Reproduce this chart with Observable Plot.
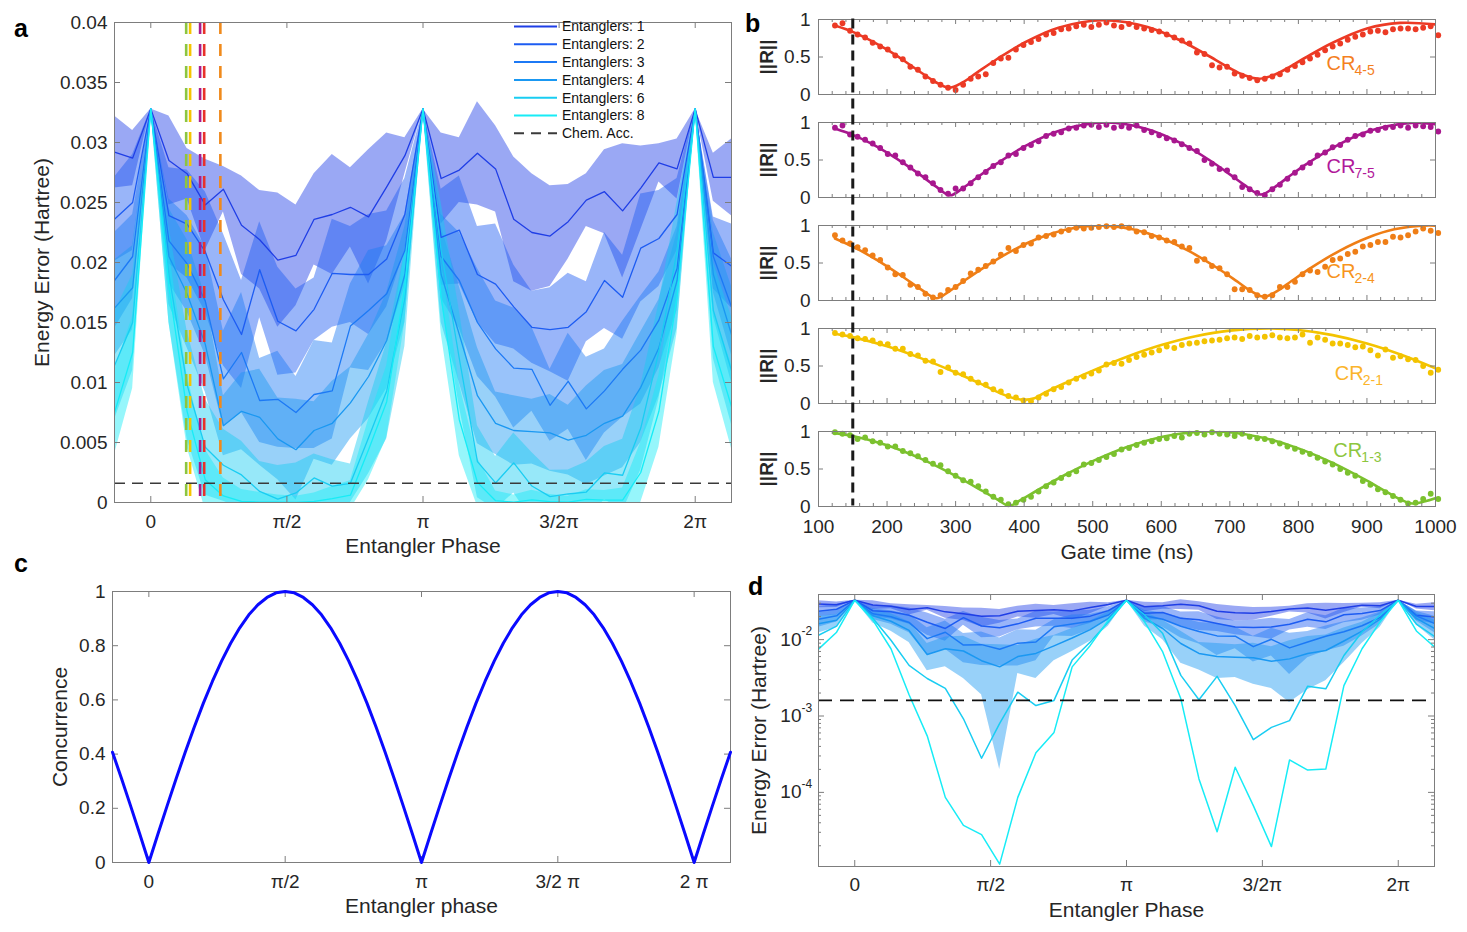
<!DOCTYPE html>
<html>
<head>
<meta charset="utf-8">
<script src="https://cdn.jsdelivr.net/npm/d3@7"></script>
<script src="https://cdn.jsdelivr.net/npm/@observablehq/plot@0.6"></script>
<style>
  html, body { margin: 0; padding: 0; background: #fff; }
  #figure { position: relative; width: 1467px; height: 932px; overflow: hidden; background: #fff; }
  .panel { position: absolute; }
</style>
</head>
<body>
<div id="figure"></div>
<script>
// ================= data =================

// Entangler phase grid (degrees) for the energy-error scans (panels a, d)
const phaseDeg = [-24,-12,0,12,24,36,48,60,72,84,96,108,120,132,144,156,168,180,192,204,216,228,240,252,264,276,288,300,312,324,336,348,360,372,384];
const entanglerCounts = [1, 2, 3, 4, 6, 8];

// mean energy error (Hartree) and spread, per number of entanglers
const err1 = [0.0292,0.0287,0.0328,0.0285,0.0274,0.0248,0.0261,0.0231,0.0219,0.0202,0.0206,0.0236,0.0240,0.0246,0.0238,0.0263,0.0289,0.0328,0.0270,0.0277,0.0291,0.0278,0.0236,0.0225,0.0222,0.0234,0.0252,0.0259,0.0243,0.0262,0.0283,0.0278,0.0328,0.0271,0.0271];
const sd1  = [0.0030,0.0023,0,0.0037,0.0021,0.0038,0.0019,0.0041,0.0041,0.0056,0.0042,0.0038,0.0050,0.0033,0.0056,0.0045,0.0015,0,0.0038,0.0027,0.0043,0.0036,0.0052,0.0049,0.0042,0.0031,0.0022,0.0035,0.0056,0.0035,0.0016,0.0025,0,0.0020,0.0032];
const err2 = [0.0236,0.0250,0.0328,0.0239,0.0232,0.0209,0.0169,0.0140,0.0194,0.0151,0.0143,0.0161,0.0191,0.0190,0.0190,0.0203,0.0240,0.0328,0.0221,0.0227,0.0190,0.0182,0.0163,0.0146,0.0144,0.0146,0.0159,0.0185,0.0171,0.0212,0.0220,0.0240,0.0328,0.0208,0.0197];
const sd2  = [0.0035,0.0040,0,0.0040,0.0045,0.0050,0.0055,0.0045,0.0040,0.0045,0.0035,0.0026,0.0045,0.0040,0.0050,0.0040,0.0030,0,0.0040,0.0045,0.0040,0.0050,0.0035,0.0030,0.0035,0.0045,0.0025,0.0040,0.0035,0.0045,0.0040,0.0030,0,0.0030,0.0035];
const err3 = [0.0185,0.0205,0.0328,0.0218,0.0199,0.0168,0.0103,0.0125,0.0085,0.0086,0.0075,0.0090,0.0093,0.0147,0.0160,0.0174,0.0210,0.0328,0.0205,0.0185,0.0150,0.0128,0.0112,0.0111,0.0081,0.0101,0.0078,0.0093,0.0111,0.0127,0.0152,0.0195,0.0328,0.0205,0.0163];
const sd3  = [0.0040,0.0035,0,0.0035,0.0040,0.0045,0.0040,0.0050,0.0035,0.0040,0.0030,0.0045,0.0040,0.0035,0.0050,0.0040,0.0030,0,0.0035,0.0040,0.0045,0.0040,0.0050,0.0035,0.0030,0.0040,0.0043,0.0035,0.0040,0.0045,0.0040,0.0035,0,0.0030,0.0040];
const err4 = [0.0162,0.0179,0.0328,0.0205,0.0174,0.0132,0.0064,0.0076,0.0071,0.0053,0.0044,0.0060,0.0066,0.0083,0.0105,0.0135,0.0190,0.0328,0.0190,0.0140,0.0089,0.0066,0.0060,0.0059,0.0058,0.0052,0.0056,0.0066,0.0072,0.0096,0.0129,0.0185,0.0328,0.0190,0.0140];
const sd4  = [0.0040,0.0035,0,0.0040,0.0045,0.0040,0.0025,0.0032,0.0040,0.0034,0.0042,0.0024,0.0035,0.0030,0.0035,0.0040,0.0040,0,0.0040,0.0040,0.0040,0.0026,0.0029,0.0027,0.0032,0.0029,0.0041,0.0044,0.0043,0.0046,0.0040,0.0040,0,0.0035,0.0040];
const err6 = [0.0114,0.0150,0.0328,0.0190,0.0098,0.0046,0.0031,0.0023,0.00092,0.00028,0.00080,0.00205,0.00137,0.00160,0.0054,0.0093,0.0170,0.0328,0.0210,0.0120,0.0034,0.00163,0.0033,0.00137,0.00049,0.00071,0.00087,0.00246,0.00227,0.0062,0.0126,0.0210,0.0328,0.0160,0.0110];
const sd6  = [0.0045,0.0040,0,0.0040,0.0045,0.0040,0.0030,0.0028,0.0025,0.0028,0.0025,0.0020,0.0022,0.0016,0.0030,0.0040,0.0040,0,0.0040,0.0040,0.0030,0.0022,0.0025,0.0028,0.0022,0.0020,0.0025,0.0022,0.0030,0.0035,0.0040,0.0040,0,0.0040,0.0045];
const err8 = [0.0075,0.0125,0.0328,0.0180,0.0076,0.0019,0.00055,0.000086,0.000037,0.000028,0.0000115,0.000086,0.00033,0.00061,0.0044,0.0084,0.0180,0.0328,0.0171,0.0069,0.00168,0.00015,0.0000305,0.000213,0.000067,0.0000195,0.000266,0.000196,0.000202,0.0025,0.0076,0.0171,0.0328,0.0130,0.0080];
const sd8  = [0.0035,0.0030,0,0.0030,0.0030,0.0025,0.0015,0.0010,0.0008,0.0006,0.0005,0.0007,0.0010,0.0012,0.0025,0.0030,0.0030,0,0.0030,0.0030,0.0020,0.0008,0.0006,0.0008,0.0006,0.0005,0.0008,0.0008,0.0010,0.0025,0.0030,0.0030,0,0.0030,0.0035];

// chemical accuracy threshold (Hartree)
const chemAcc = 0.0016;

// cross-resonance gates and the entangler phase each reaches at the chosen gate time
const gateNames = ["CR4-5", "CR7-5", "CR2-4", "CR2-1", "CR1-3"];
const gatePhaseDeg = [35.3, 32.6, 46.0, 26.0, 23.4];
const chosenGateTime = 150; // ns

// gate-time sweep (ns) and measured ||R||
const gateTimes = [124,135,146,157,168,179,190,201,212,223,234,245,256,267,278,289,300,311,322,333,344,355,366,377,388,399,410,421,432,443,454,465,476,487,498,509,520,531,542,553,564,575,586,597,608,619,630,641,652,663,674,685,696,707,718,729,740,751,762,773,784,795,806,817,828,839,850,861,872,883,894,905,916,927,938,949,960,971,982,993,1004];
const r45 = [0.92,0.95,0.85,0.80,0.76,0.69,0.64,0.60,0.52,0.47,0.37,0.33,0.24,0.18,0.13,0.09,0.06,0.13,0.21,0.24,0.27,0.42,0.48,0.49,0.60,0.66,0.70,0.74,0.80,0.82,0.87,0.88,0.91,0.93,0.90,0.93,0.96,0.92,0.90,0.94,0.90,0.88,0.86,0.84,0.80,0.76,0.72,0.68,0.56,0.54,0.39,0.36,0.37,0.28,0.25,0.22,0.19,0.21,0.24,0.27,0.33,0.38,0.43,0.48,0.53,0.59,0.64,0.68,0.73,0.77,0.80,0.84,0.85,0.83,0.87,0.88,0.88,0.87,0.89,0.91,0.79];
const r75 = [0.93,0.96,0.84,0.81,0.77,0.72,0.66,0.58,0.56,0.47,0.40,0.32,0.27,0.19,0.10,0.05,0.12,0.12,0.19,0.27,0.34,0.42,0.47,0.56,0.58,0.66,0.70,0.75,0.82,0.85,0.87,0.92,0.93,0.96,0.97,0.94,0.97,0.93,0.95,0.93,0.96,0.90,0.87,0.83,0.79,0.76,0.71,0.66,0.62,0.50,0.45,0.38,0.36,0.27,0.14,0.11,0.06,0.03,0.11,0.17,0.25,0.33,0.40,0.46,0.56,0.60,0.67,0.70,0.77,0.82,0.84,0.89,0.90,0.93,0.94,0.96,0.93,0.96,0.95,0.94,0.88];
const r24 = [0.87,0.80,0.76,0.71,0.67,0.60,0.54,0.44,0.35,0.34,0.21,0.18,0.09,0.04,0.07,0.14,0.18,0.26,0.36,0.41,0.46,0.52,0.61,0.70,0.66,0.74,0.76,0.84,0.86,0.88,0.92,0.94,0.97,0.96,0.97,0.98,0.99,0.98,0.99,0.97,0.92,0.91,0.86,0.84,0.80,0.78,0.72,0.70,0.53,0.55,0.46,0.43,0.35,0.15,0.15,0.14,0.07,0.05,0.07,0.18,0.18,0.25,0.35,0.40,0.38,0.45,0.54,0.56,0.62,0.65,0.72,0.74,0.78,0.78,0.85,0.84,0.87,0.92,0.96,0.93,0.90];
const r21 = [0.94,0.92,0.90,0.87,0.86,0.84,0.80,0.79,0.73,0.73,0.66,0.64,0.57,0.56,0.42,0.48,0.41,0.39,0.33,0.28,0.25,0.19,0.16,0.10,0.08,0.04,0.03,0.08,0.13,0.19,0.22,0.28,0.33,0.36,0.40,0.44,0.52,0.54,0.53,0.58,0.62,0.65,0.68,0.71,0.76,0.74,0.78,0.80,0.81,0.83,0.84,0.85,0.87,0.88,0.86,0.90,0.88,0.89,0.91,0.88,0.87,0.88,0.92,0.81,0.88,0.85,0.80,0.80,0.78,0.75,0.76,0.71,0.64,0.72,0.61,0.63,0.59,0.58,0.50,0.41,0.45];
const r13 = [0.99,0.97,0.95,0.90,0.92,0.87,0.85,0.80,0.80,0.74,0.71,0.67,0.62,0.57,0.55,0.47,0.41,0.35,0.33,0.27,0.20,0.13,0.09,0.03,0.05,0.09,0.13,0.20,0.27,0.32,0.38,0.43,0.47,0.56,0.58,0.62,0.66,0.70,0.76,0.78,0.82,0.85,0.87,0.90,0.91,0.94,0.92,0.97,0.98,0.96,0.99,0.97,0.96,0.94,0.97,0.93,0.91,0.90,0.87,0.84,0.80,0.77,0.73,0.70,0.65,0.60,0.56,0.50,0.45,0.41,0.34,0.29,0.23,0.19,0.14,0.09,0.04,0.05,0.10,0.17,0.10];

// fitted ||R|| curves (knot times in ns, values)
const fit45T = [124,150,175,200,225,250,270,290,310,330,360,400,450,515,580,630,670,700,720,741,760,780,810,850,900,948,1000];
const fit45R = [0.92,0.835,0.725,0.597,0.45,0.29,0.17,0.09,0.16,0.285,0.47,0.69,0.89,0.99,0.90,0.71,0.51,0.35,0.26,0.21,0.245,0.33,0.49,0.69,0.88,0.955,0.935];
const fit75T = [124,150,175,200,225,250,270,292,310,330,360,400,450,520,580,630,670,700,720,745,765,785,810,850,900,965,1000];
const fit75R = [0.92,0.835,0.728,0.598,0.451,0.291,0.155,0.03,0.122,0.257,0.451,0.678,0.888,1.0,0.911,0.718,0.50,0.309,0.175,0.04,0.136,0.271,0.434,0.663,0.878,0.995,0.975];
const fit24T = [124,150,175,200,225,250,272,290,310,340,380,420,460,500,520,560,600,640,680,710,730,750,770,790,820,860,900,940,990,1000];
const fit24R = [0.826,0.718,0.595,0.456,0.304,0.144,0.03,0.118,0.247,0.432,0.652,0.826,0.944,0.997,0.998,0.948,0.834,0.661,0.443,0.259,0.131,0.05,0.132,0.26,0.445,0.663,0.834,0.949,1.0,0.997];
const fit21T = [124,150,200,250,300,340,370,385,400,415,430,460,500,550,600,650,700,757,800,850,900,950,1000];
const fit21R = [0.93,0.885,0.762,0.602,0.414,0.248,0.118,0.07,0.05,0.07,0.145,0.274,0.438,0.624,0.779,0.897,0.972,1.0,0.98,0.912,0.801,0.651,0.47];
const fit13T = [124,150,200,250,300,340,360,378,395,420,460,500,550,600,640,672,700,750,800,850,900,930,950,966,985,1000];
const fit13R = [0.978,0.94,0.816,0.635,0.408,0.204,0.099,0.01,0.087,0.22,0.423,0.605,0.794,0.926,0.985,1.0,0.989,0.914,0.775,0.581,0.344,0.189,0.09,0.04,0.07,0.11];

// concurrence of the entangler versus its phase (degrees)
const phaseDegC = [-24,-18,-12,-6,0,6,12,18,24,30,36,42,48,54,60,66,72,78,84,90,96,102,108,114,120,126,132,138,144,150,156,162,168,174,180,186,192,198,204,210,216,222,228,234,240,246,252,258,264,270,276,282,288,294,300,306,312,318,324,330,336,342,348,354,360,366,372,378,384];
const concurrence = [0.407,0.309,0.208,0.105,0,0.105,0.208,0.309,0.407,0.5,0.588,0.669,0.743,0.809,0.866,0.914,0.951,0.978,0.995,1,0.995,0.978,0.951,0.914,0.866,0.809,0.743,0.669,0.588,0.5,0.407,0.309,0.208,0.105,0,0.105,0.208,0.309,0.407,0.5,0.588,0.669,0.743,0.809,0.866,0.914,0.951,0.978,0.995,1,0.995,0.978,0.951,0.914,0.866,0.809,0.743,0.669,0.588,0.5,0.407,0.309,0.208,0.105,0,0.105,0.208,0.309,0.407];

// tick positions and labels
const phaseTicks = [0, 90, 180, 270, 360];
const phaseLabelsA = ["0", "π/2", "π", "3/2π", "2π"];
const phaseLabelsC = ["0", "π/2", "π", "3/2 π", "2 π"];
const errTicks = [0, 0.005, 0.01, 0.015, 0.02, 0.025, 0.03, 0.035, 0.04];
const concTicks = [0, 0.2, 0.4, 0.6, 0.8, 1];
const rTicks = [0, 0.5, 1];
const timeTicks = [100, 200, 300, 400, 500, 600, 700, 800, 900, 1000];
const logDecades = [1e-2, 1e-3, 1e-4];
const logExponents = ["-2", "-3", "-4"];

// ================= styling =================
const FONT = "'Liberation Sans', Arial, Helvetica, sans-serif";
const INK = "#262626";
const AXIS = "#7d7d7d";
const TICK_FS = 19, TITLE_FS = 21;
const entColors = ["#1f3ee6", "#1d5cf2", "#1c79f5", "#1a98f2", "#19cdf2", "#17ecf6"];
const gateDotColors = ["#ec3a25", "#a8178e", "#ef7e16", "#f3c300", "#7bc12e"];
const gateLabelColors = ["#f4801f", "#b1199a", "#f7941d", "#fbb42a", "#8dc63f"];
const gateLineColors = ["#e8312a", "#a81b8d", "#f08a1c", "#f5c400", "#8dc63f"];

const baseStyle = {fontFamily: FONT, fontSize: TICK_FS + "px", color: INK, background: "none", overflow: "visible"};

// inward tick marks on all four sides of a frame
function frameTicks({xTicks = [], yTicks = [], fw, fh, len = 6}) {
  return [
    Plot.tickX(xTicks, {x: d => d, insetTop: fh - len, stroke: AXIS}),
    Plot.tickX(xTicks, {x: d => d, insetBottom: fh - len, stroke: AXIS}),
    Plot.tickY(yTicks, {y: d => d, insetRight: fw - len, stroke: AXIS}),
    Plot.tickY(yTicks, {y: d => d, insetLeft: fw - len, stroke: AXIS})
  ];
}

// axis titles: one below the frame, one rotated to its left
function xTitle(text, dy, extra = {}) {
  return Plot.text([text], {text: d => d, frameAnchor: "bottom", lineAnchor: "middle", textAnchor: "middle", dy, fontSize: TITLE_FS, fill: INK, ...extra});
}
function yTitle(text, dx, extra = {}) {
  return Plot.text([text], {text: d => d, frameAnchor: "left", lineAnchor: "middle", textAnchor: "middle", rotate: -90, dx, fontSize: TITLE_FS, fill: INK, ...extra});
}

const fig = document.getElementById("figure");
function place(node, left, top, w, h) {
  const d = document.createElement("div");
  d.className = "panel";
  d.style.left = left + "px"; d.style.top = top + "px";
  d.style.width = w + "px"; d.style.height = h + "px";
  d.appendChild(node);
  fig.appendChild(d);
}

// tidy table of the energy-error scans
const errSeries = [err1, err2, err3, err4, err6, err8];
const sdSeries = [sd1, sd2, sd3, sd4, sd6, sd8];
const scanRows = entanglerCounts.flatMap((n, s) => phaseDeg.map((p, i) => ({
  n, phase: p, err: errSeries[s][i],
  lo: errSeries[s][i] - sdSeries[s][i], hi: errSeries[s][i] + sdSeries[s][i],
  color: entColors[s]
})));
const gateRows = gateNames.map((g, i) => ({gate: g, phase: gatePhaseDeg[i], color: gateLineColors[i]}));

// ================= panel a: linear energy error =================
{
  const W = 740, H = 560, ml = 114, mr = 9, mt = 22, mb = 58;
  const fw = W - ml - mr, fh = H - mt - mb;
  const plot = Plot.plot({
    width: W, height: H, marginLeft: ml, marginRight: mr, marginTop: mt, marginBottom: mb,
    x: {domain: [-24, 384]}, y: {domain: [0, 0.04]},
    style: baseStyle,
    marks: [
      Plot.areaY(scanRows, {x: "phase", y1: "lo", y2: "hi", z: "n", fill: "color", fillOpacity: 0.45, clip: true}),
      Plot.lineY(scanRows, {x: "phase", y: "err", z: "n", stroke: "color", strokeWidth: 1.3, clip: true}),
      Plot.ruleY([chemAcc], {stroke: "#3a3a3a", strokeWidth: 1.6, strokeDasharray: "11,7"}),
      Plot.ruleX(gateRows, {x: "phase", stroke: "color", strokeWidth: 2.6, strokeDasharray: "12,10"}),
      ...frameTicks({xTicks: phaseTicks, yTicks: errTicks, fw, fh}),
      Plot.frame({stroke: AXIS}),
      Plot.axisX({ticks: phaseTicks, tickFormat: (d, i) => phaseLabelsA[i], tickSize: 0, tickPadding: 12, label: null, fontSize: TICK_FS, color: INK}),
      Plot.axisY({ticks: errTicks, tickFormat: d => String(d), tickSize: 0, tickPadding: 7, label: null, fontSize: TICK_FS, color: INK}),
      xTitle("Entangler Phase", 44),
      yTitle("Energy Error (Hartree)", -72)
    ]
  });
  place(plot, 0, 0, W, H);
}

// ================= panel b: ||R|| versus gate time =================
{
  const W = 727, H = 560, ml = 78, mr = 32, mt = 18.5, mb = 54.5;
  const pad = 0.272;
  const fw = W - ml - mr;
  const step = (H - mt - mb) / (gateNames.length - pad);
  const fh = step * (1 - pad);
  const dotSeries = [r45, r75, r24, r21, r13];
  const fitTs = [fit45T, fit75T, fit24T, fit21T, fit13T];
  const fitRs = [fit45R, fit75R, fit24R, fit21R, fit13R];
  const dotRows = gateNames.flatMap((g, k) => gateTimes.map((t, i) => ({gate: g, t, r: dotSeries[k][i], color: gateDotColors[k]})));
  const fitRows = gateNames.flatMap((g, k) => fitTs[k].map((t, i) => ({gate: g, t, r: fitRs[k][i], color: gateDotColors[k]})));
  // where each gate's name is written inside its panel (ns, ||R||)
  const labelAt = [[841, 0.41], [841, 0.41], [841, 0.39], [853, 0.40], [851, 0.74]];
  const labelRows = gateNames.map((g, k) => ({gate: g, t: labelAt[k][0], r: labelAt[k][1], sub: g.slice(2), color: gateLabelColors[k]}));
  const minorTime = d3.range(100, 1001, 20).filter(t => t % 100 !== 0);
  const plot = Plot.plot({
    width: W, height: H, marginLeft: ml, marginRight: mr, marginTop: mt, marginBottom: mb,
    x: {domain: [100, 1000]}, y: {domain: [0, 1]},
    fy: {domain: gateNames, paddingInner: pad, paddingOuter: 0, axis: null},
    style: baseStyle,
    marks: [
      Plot.lineY(fitRows, {x: "t", y: "r", fy: "gate", z: "gate", stroke: "color", strokeWidth: 2.6, curve: "catmull-rom", clip: true}),
      Plot.dot(dotRows, {x: "t", y: "r", fy: "gate", fill: "color", r: 2.9}),
      Plot.text(labelRows, {x: "t", y: "r", fy: "gate", text: () => "CR", fill: "color", textAnchor: "start", fontSize: 20}),
      Plot.text(labelRows, {x: "t", y: "r", fy: "gate", text: "sub", fill: "color", textAnchor: "start", fontSize: 14, dx: 28, dy: 7}),
      ...frameTicks({xTicks: timeTicks, yTicks: rTicks, fw, fh, len: 5}),
      ...frameTicks({xTicks: minorTime, fw, fh, len: 3}),
      Plot.frame({stroke: AXIS}),
      Plot.axisX({ticks: timeTicks, tickFormat: d => String(d), tickSize: 0, tickPadding: 13, label: null, fontSize: TICK_FS, color: INK}),
      Plot.axisY({ticks: rTicks, tickFormat: d => String(d), tickSize: 0, tickPadding: 8, label: null, fontSize: TICK_FS, color: INK}),
      Plot.text(gateNames, {fy: d => d, text: () => "||R||", frameAnchor: "left", textAnchor: "middle", lineAnchor: "middle", rotate: -90, dx: -52, fontSize: 19, fontWeight: "bold", fill: INK}),
      xTitle("Gate time (ns)", 46, {fy: () => "CR1-3"})
    ]
  });
  place(plot, 740, 0, W, H);

  // the chosen gate time, marked across all five gates
  const marker = Plot.plot({
    width: W, height: H, marginLeft: ml, marginRight: mr, marginTop: mt, marginBottom: mb,
    x: {domain: [100, 1000], axis: null}, y: {domain: [0, 1], axis: null},
    style: baseStyle,
    marks: [Plot.ruleX([chosenGateTime], {stroke: "#1a1a1a", strokeWidth: 3, strokeDasharray: "10,6"})]
  });
  place(marker, 740, 0, W, H);
}

// ================= panel c: concurrence =================
{
  const W = 740, H = 372, ml = 112, mr = 10, mt = 31, mb = 70;
  const fw = W - ml - mr, fh = H - mt - mb;
  const rows = phaseDegC.map((p, i) => ({phase: p, c: concurrence[i]}));
  const plot = Plot.plot({
    width: W, height: H, marginLeft: ml, marginRight: mr, marginTop: mt, marginBottom: mb,
    x: {domain: [-24, 384]}, y: {domain: [0, 1]},
    style: baseStyle,
    marks: [
      ...frameTicks({xTicks: phaseTicks, yTicks: concTicks, fw, fh}),
      Plot.frame({stroke: AXIS}),
      Plot.lineY(rows, {x: "phase", y: "c", stroke: "#0a0aff", strokeWidth: 3}),
      Plot.axisX({ticks: phaseTicks, tickFormat: (d, i) => phaseLabelsC[i], tickSize: 0, tickPadding: 12, label: null, fontSize: TICK_FS, color: INK}),
      Plot.axisY({ticks: concTicks, tickFormat: d => String(d), tickSize: 0, tickPadding: 7, label: null, fontSize: TICK_FS, color: INK}),
      xTitle("Entangler phase", 44),
      yTitle("Concurrence", -52)
    ]
  });
  place(plot, 0, 560, W, H);
}

// ================= panel d: log energy error =================
{
  const W = 727, H = 372, ml = 78, mr = 33, mt = 34, mb = 66;
  const fw = W - ml - mr, fh = H - mt - mb;
  const banded = scanRows.filter(d => d.n <= 4);
  const minorLog = [2, 3, 4, 5, 6, 7, 8, 9].flatMap(m => [m * 1e-5, m * 1e-4, m * 1e-3]).concat([2e-2, 3e-2]);
  const plot = Plot.plot({
    width: W, height: H, marginLeft: ml, marginRight: mr, marginTop: mt, marginBottom: mb,
    x: {domain: [-24, 384]}, y: {type: "log", domain: [1.07e-5, 0.039], axis: null},
    style: baseStyle,
    marks: [
      Plot.areaY(banded, {x: "phase", y1: "lo", y2: "hi", z: "n", fill: "color", fillOpacity: 0.45, clip: true}),
      Plot.lineY(scanRows, {x: "phase", y: "err", z: "n", stroke: "color", strokeWidth: 1.5, clip: true}),
      Plot.ruleY([chemAcc], {stroke: "#111", strokeWidth: 1.6, strokeDasharray: "14,8"}),
      ...frameTicks({xTicks: phaseTicks, yTicks: logDecades, fw, fh}),
      ...frameTicks({yTicks: minorLog, fw, fh, len: 3}),
      Plot.frame({stroke: AXIS}),
      Plot.axisX({ticks: phaseTicks, tickFormat: (d, i) => phaseLabelsA[i], tickSize: 0, tickPadding: 11, label: null, fontSize: TICK_FS, color: INK}),
      Plot.text(logDecades, {y: d => d, text: () => "10", frameAnchor: "left", textAnchor: "end", dx: -17, fontSize: TICK_FS, fill: INK}),
      Plot.text(logDecades, {y: d => d, text: (d, i) => logExponents[i], frameAnchor: "left", textAnchor: "start", dx: -17, dy: -8, fontSize: 12, fill: INK}),
      xTitle("Entangler Phase", 44),
      yTitle("Energy Error (Hartree)", -59)
    ]
  });
  place(plot, 740, 560, W, H);
}

// ================= legend of panel a and panel letters =================
{
  const svg = d3.create("svg").attr("width", 1467).attr("height", 932)
    .style("position", "absolute").style("left", "0px").style("top", "0px")
    .attr("font-family", FONT);
  const items = entanglerCounts.map((n, i) => ({label: "Entanglers: " + n, color: entColors[i], dash: null}))
    .concat([{label: "Chem. Acc.", color: "#3a3a3a", dash: "10,7"}]);
  const lg = svg.append("g").attr("font-size", 14).attr("fill", "#111");
  items.forEach((item, i) => {
    const y = 26.5 + i * 17.8;
    lg.append("line").attr("x1", 514).attr("x2", 557).attr("y1", y).attr("y2", y)
      .attr("stroke", item.color).attr("stroke-width", 2).attr("stroke-dasharray", item.dash);
    lg.append("text").attr("x", 562).attr("y", y).attr("dy", "0.35em").text(item.label);
  });
  const letters = [["a", 14, 37], ["b", 745, 32], ["c", 14, 572], ["d", 748, 595]];
  svg.append("g").attr("font-size", 25).attr("font-weight", "bold").attr("fill", "#000")
    .selectAll("text").data(letters).join("text")
    .attr("x", d => d[1]).attr("y", d => d[2]).text(d => d[0]);
  fig.appendChild(svg.node());
}
</script>
</body>
</html>
